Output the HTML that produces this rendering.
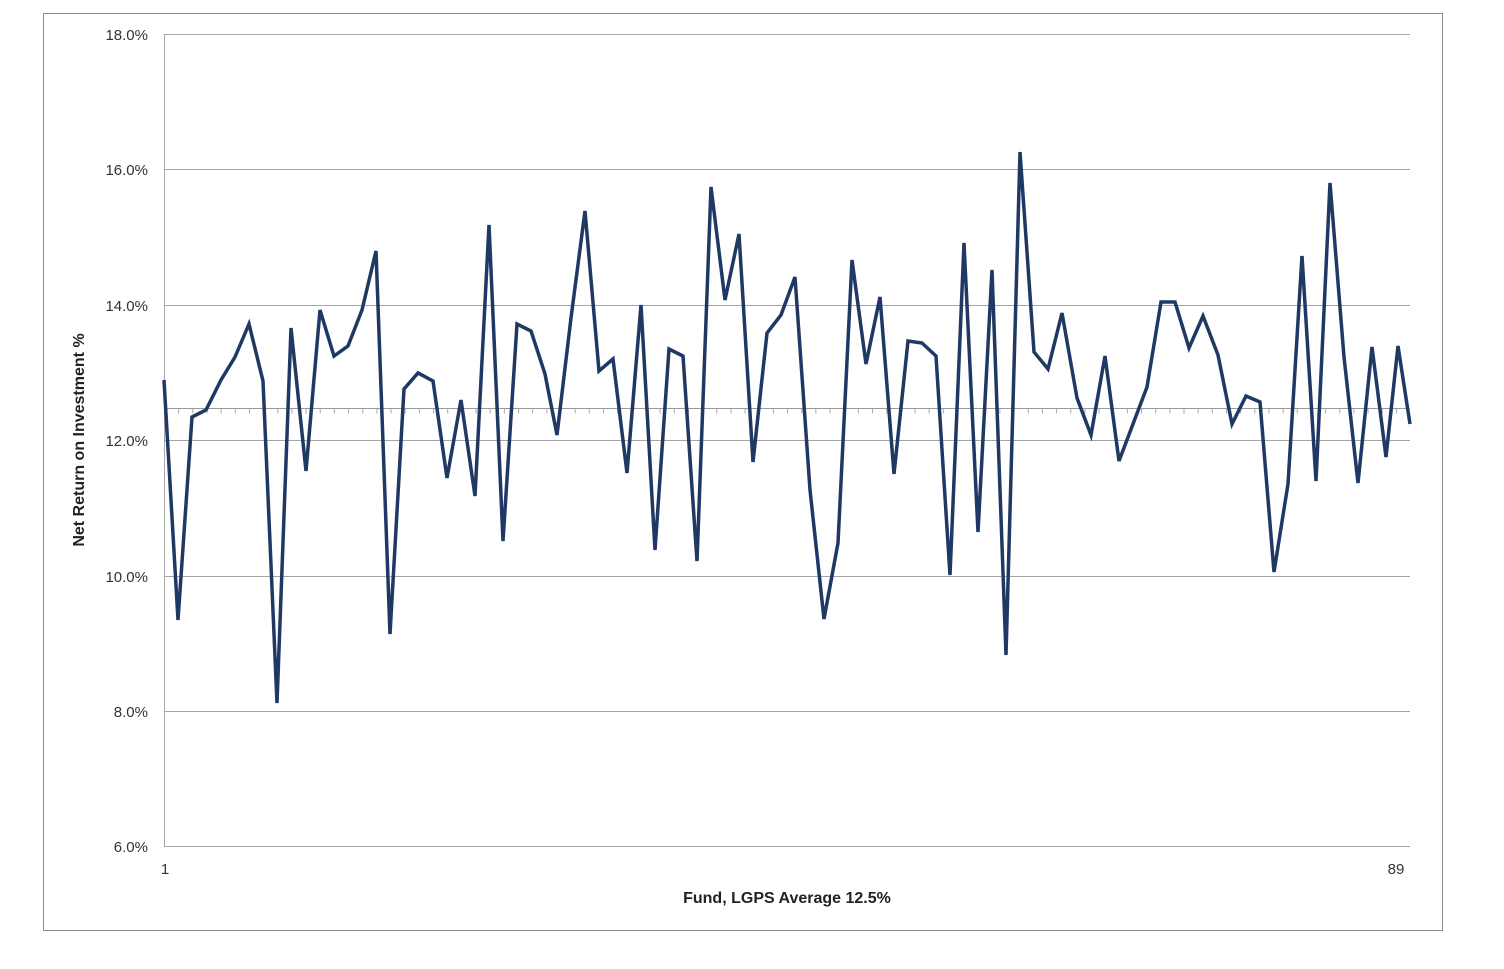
<!DOCTYPE html>
<html><head><meta charset="utf-8"><style>
body{margin:0;background:#fff;}
svg text{font-family:"Liberation Sans",Arial,sans-serif;}
</style></head><body>
<svg width="1504" height="964" xmlns="http://www.w3.org/2000/svg">
<rect x="43.5" y="13.5" width="1399" height="917" fill="#fff" stroke="#8c8c8c" stroke-width="1"/>
<g stroke="#a6a6a6" stroke-width="1">
<line x1="164" y1="34.5" x2="1410" y2="34.5"/>
<line x1="164" y1="169.5" x2="1410" y2="169.5"/>
<line x1="164" y1="305.5" x2="1410" y2="305.5"/>
<line x1="164" y1="440.5" x2="1410" y2="440.5"/>
<line x1="164" y1="576.5" x2="1410" y2="576.5"/>
<line x1="164" y1="711.5" x2="1410" y2="711.5"/>
<line x1="164" y1="846.5" x2="1410" y2="846.5"/>
<line x1="164.5" y1="34" x2="164.5" y2="846"/>
</g>
<line x1="164" y1="408.5" x2="1410" y2="408.5" stroke="#999" stroke-width="1"/>
<line x1="164" y1="411" x2="1410" y2="411" stroke="#aaa" stroke-width="5" stroke-dasharray="1 13.16"/>
<g font-size="15" fill="#333" text-anchor="end">
<text x="148" y="40">18.0%</text>
<text x="148" y="175">16.0%</text>
<text x="148" y="311">14.0%</text>
<text x="148" y="446">12.0%</text>
<text x="148" y="582">10.0%</text>
<text x="148" y="717">8.0%</text>
<text x="148" y="852">6.0%</text>
</g>
<text x="165" y="874" font-size="15" fill="#333" text-anchor="middle">1</text>
<text x="1396" y="874" font-size="15" fill="#333" text-anchor="middle">89</text>
<text x="787" y="903" font-size="16" font-weight="bold" fill="#222" text-anchor="middle">Fund, LGPS Average 12.5%</text>
<text transform="translate(84,440) rotate(-90)" font-size="16" font-weight="bold" fill="#222" text-anchor="middle">Net Return on Investment %</text>
<polyline fill="none" stroke="#1f3864" stroke-width="3.5" stroke-linejoin="miter" points="164,380 178,620 192,417 206,410 221,380 235,357 249,324 263,381 277,703 291,328 306,471 320,310 334,356 348,346 362,310 376,251 390,634 404,389 418,373 433,381 447,478 461,400 475,496 489,225 503,541 517,324 531,331 545,374 557,435 571,318 585,211 599,371 613,359 627,473 641,305 655,550 669,349 683,356 697,561 711,187 725,300 739,234 753,462 767,333 781,315 795,277 810,490 824,619 838,543 852,260 866,364 880,297 894,474 908,341 922,343 936,356 950,575 964,243 978,532 992,270 1006,655 1020,152 1034,352 1048,369 1062,313 1077,398 1091,435 1105,356 1119,461 1133,424 1147,387 1161,302 1175,302 1189,348 1203,316 1218,355 1232,424 1246,396 1260,402 1274,572 1288,484 1302,256 1316,481 1330,183 1344,357 1358,483 1372,347 1386,457 1398,346 1410,424"/>
</svg>
</body></html>
